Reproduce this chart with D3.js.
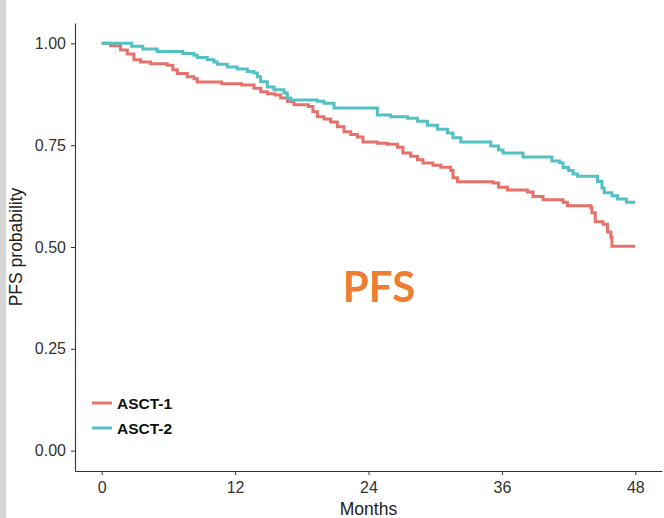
<!DOCTYPE html>
<html>
<head>
<meta charset="utf-8">
<script src="https://cdn.jsdelivr.net/npm/d3@7"></script>
<style>
  body { margin: 0; background: #fff; }
  svg { display: block; }
</style>
</head>
<body>
<div id="chart"></div>
<script>
// survival steps: [month, probability]
const asct1 = [
  [0, 1.0], [0.8, 0.994], [1.7, 0.984], [2.3, 0.974], [2.9, 0.96], [3.5, 0.954],
  [4.4, 0.95], [5.9, 0.946], [6.4, 0.935], [6.8, 0.926], [7.7, 0.918], [8.3, 0.913],
  [8.6, 0.905], [10.8, 0.901], [12.6, 0.898], [13.7, 0.89], [14.3, 0.881], [14.9, 0.876],
  [15.6, 0.873], [16.1, 0.866], [16.7, 0.857], [17.3, 0.849], [18.6, 0.845], [19.0, 0.832],
  [19.4, 0.82], [20.0, 0.814], [20.6, 0.807], [21.2, 0.795], [21.8, 0.783], [22.4, 0.776],
  [23.0, 0.77], [23.5, 0.758], [24.8, 0.755], [25.7, 0.752], [26.6, 0.745], [27.1, 0.731],
  [27.8, 0.723], [28.4, 0.714], [28.9, 0.706], [29.8, 0.701], [30.5, 0.696], [31.4, 0.688],
  [31.6, 0.67], [32.0, 0.66], [35.2, 0.657], [35.7, 0.647], [36.5, 0.64], [38.3, 0.635],
  [38.8, 0.624], [39.7, 0.616], [41.5, 0.61], [41.9, 0.601], [44.0, 0.597], [44.1, 0.584],
  [44.4, 0.562], [45.1, 0.556], [45.5, 0.537], [45.8, 0.524], [45.9, 0.502], [48, 0.502]
];
const asct2 = [
  [0, 1.0], [2.7, 0.993], [3.7, 0.986], [5.0, 0.98], [7.3, 0.975], [8.3, 0.971],
  [8.6, 0.965], [9.5, 0.96], [10.1, 0.954], [10.4, 0.949], [11.3, 0.942], [12.2, 0.937],
  [13.1, 0.931], [13.7, 0.927], [14.0, 0.918], [14.3, 0.906], [14.9, 0.893], [15.5, 0.886],
  [16.4, 0.878], [16.7, 0.866], [17.0, 0.861], [19.4, 0.858], [20.0, 0.853], [20.9, 0.841],
  [24.8, 0.824], [26.0, 0.82], [27.5, 0.816], [28.4, 0.809], [29.3, 0.799], [30.2, 0.789],
  [31.1, 0.78], [31.6, 0.768], [32.3, 0.758], [35.0, 0.748], [35.7, 0.738], [36.1, 0.731],
  [37.9, 0.721], [40.5, 0.711], [41.2, 0.707], [41.5, 0.695], [42.0, 0.688], [42.4, 0.679],
  [42.8, 0.674], [44.6, 0.661], [45.0, 0.645], [45.2, 0.633], [45.9, 0.626], [46.4, 0.618],
  [47.2, 0.61], [48, 0.61]
];
const groups = ["ASCT-1", "ASCT-2"];
const colours = ["#e6716a", "#55c0c3"];
const xTicks = [0, 12, 24, 36, 48];
const yTicks = [0, 0.25, 0.5, 0.75, 1];

const width = 664;
const height = 518;
const panel = { left: 75, right: 662, top: 23, bottom: 471 };
const font = "'Liberation Sans', Arial, sans-serif";

const svg = d3
  .select("#chart")
  .append("svg")
  .attr("width", width)
  .attr("height", height);

// grey strip on the left edge of the slide
svg.append("rect").attr("x", 0).attr("y", 0).attr("width", 6).attr("height", height).attr("fill", "#d6d6d6");

// ggplot style expansion of 5%
const x = d3.scaleLinear().domain([-2.4, 50.4]).range([panel.left, panel.right]);
const y = d3.scaleLinear().domain([-0.05, 1.05]).range([panel.bottom, panel.top]);

const xAxis = svg
  .append("g")
  .attr("transform", "translate(0," + panel.bottom + ")")
  .call(d3.axisBottom(x).tickValues(xTicks).tickSize(4).tickPadding(4).tickSizeOuter(0));

const yAxis = svg
  .append("g")
  .attr("transform", "translate(" + panel.left + ",0)")
  .call(d3.axisLeft(y).tickValues(yTicks).tickFormat(d3.format(".2f")).tickSize(4).tickPadding(5).tickSizeOuter(0));

[xAxis, yAxis].forEach((g) => {
  g.select(".domain").attr("stroke", "#333").attr("stroke-width", 1.1);
  g.selectAll(".tick line").attr("stroke", "#333");
  g.selectAll("text")
    .attr("fill", "#333")
    .attr("font-size", "16px")
    .attr("font-family", font);
});
xAxis.selectAll("text").attr("dy", "0.9em");

// axis titles
svg
  .append("text")
  .attr("x", (x(0) + x(48)) / 2)
  .attr("y", 515)
  .attr("text-anchor", "middle")
  .attr("font-size", "17.5px")
  .attr("font-family", font)
  .attr("fill", "#222")
  .text("Months");

svg
  .append("text")
  .attr("transform", "translate(22," + y(0.5) + ") rotate(-90)")
  .attr("text-anchor", "middle")
  .attr("font-size", "17.5px")
  .attr("font-family", font)
  .attr("fill", "#222")
  .text("PFS probability");

// step curves
const line = d3
  .line()
  .x((d) => x(d[0]))
  .y((d) => y(d[1]))
  .curve(d3.curveStepAfter);

[asct1, asct2].forEach((series, i) => {
  svg
    .append("path")
    .datum(series)
    .attr("d", line)
    .attr("fill", "none")
    .attr("stroke", colours[i])
    .attr("stroke-width", 3);
});

// legend
const legend = svg.append("g").attr("transform", "translate(92,403)");
groups.forEach((name, i) => {
  legend
    .append("line")
    .attr("x1", 0)
    .attr("x2", 20)
    .attr("y1", i * 25)
    .attr("y2", i * 25)
    .attr("stroke", colours[i])
    .attr("stroke-width", 3);
  legend
    .append("text")
    .attr("x", 25)
    .attr("y", i * 25)
    .attr("dy", "0.36em")
    .attr("font-size", "15.5px")
    .attr("font-weight", "bold")
    .attr("font-family", font)
    .attr("fill", "#111")
    .text(name);
});

// slide annotation
svg
  .append("text")
  .attr("x", 379)
  .attr("y", 302)
  .attr("text-anchor", "middle")
  .attr("font-size", "42px")
  .attr("font-weight", "bold")
  .attr("font-family", "Lato, 'Open Sans', sans-serif")
  .attr("fill", "#ed7d31")
  .text("PFS");
</script>
</body>
</html>
